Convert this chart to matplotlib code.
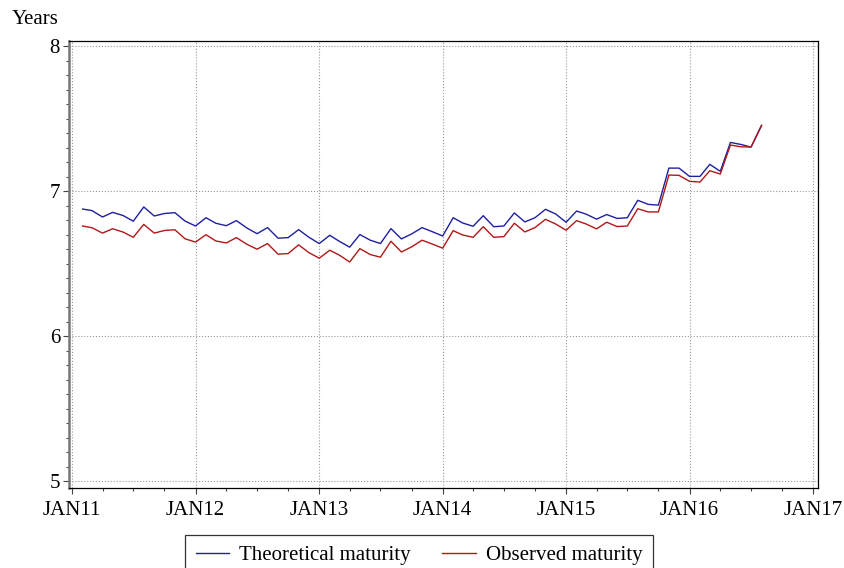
import matplotlib
matplotlib.use("Agg")
import matplotlib.pyplot as plt
import matplotlib.dates as mdates
import matplotlib.ticker as mticker
import pandas as pd

months = pd.date_range("2011-02-01", "2016-08-01", freq="MS")

theoretical = [
    6.878, 6.867, 6.823, 6.855, 6.833, 6.794, 6.892, 6.830, 6.847, 6.853, 6.795,
    6.761, 6.818, 6.780, 6.763, 6.798, 6.747, 6.708, 6.750, 6.677, 6.681, 6.736, 6.684,
    6.640, 6.697, 6.656, 6.615, 6.702, 6.663, 6.640, 6.743, 6.672, 6.706, 6.750, 6.722,
    6.692, 6.818, 6.782, 6.759, 6.832, 6.756, 6.761, 6.851, 6.789, 6.818, 6.876, 6.844,
    6.787, 6.864, 6.843, 6.808, 6.840, 6.813, 6.818, 6.938, 6.910, 6.905, 7.160, 7.160,
    7.103, 7.103, 7.186, 7.138, 7.337, 7.323, 7.305, 7.454,
]
observed = [
    6.761, 6.749, 6.712, 6.742, 6.719, 6.683, 6.772, 6.712, 6.730, 6.735, 6.673,
    6.650, 6.701, 6.658, 6.644, 6.681, 6.635, 6.601, 6.640, 6.567, 6.571, 6.631, 6.578,
    6.539, 6.594, 6.561, 6.513, 6.605, 6.564, 6.546, 6.656, 6.582, 6.617, 6.663, 6.637,
    6.608, 6.729, 6.699, 6.683, 6.756, 6.683, 6.688, 6.780, 6.720, 6.750, 6.807, 6.775,
    6.732, 6.798, 6.775, 6.741, 6.787, 6.757, 6.761, 6.880, 6.858, 6.858, 7.112, 7.110,
    7.069, 7.064, 7.142, 7.119, 7.319, 7.307, 7.305, 7.454,
]

plt.rcParams["font.family"] = ["Liberation Serif", "DejaVu Serif"]

fig = plt.figure(figsize=(8.44, 5.68), dpi=100)
ax = fig.add_axes([0.0818, 0.1408, 0.8874, 0.787])

ax.plot(months, theoretical, color="#1f1fa0", lw=1.0, label="Theoretical maturity")
ax.plot(months, observed, color="#b01818", lw=1.0, label="Observed maturity")

ax.set_xlim(pd.Timestamp("2010-12-23"), pd.Timestamp("2017-01-15"))
ax.set_ylim(4.955, 8.036)

ax.xaxis.set_major_locator(mdates.YearLocator())
ax.xaxis.set_minor_locator(mdates.MonthLocator(bymonth=[4, 7, 10]))
ax.xaxis.set_major_formatter(mdates.DateFormatter("JAN%y"))
ax.yaxis.set_major_locator(mticker.MultipleLocator(1))
ax.yaxis.set_minor_locator(mticker.MultipleLocator(0.1))

ax.grid(True, which="major", color="#999999", linestyle=":", lw=0.8)
ax.tick_params(which="major", length=4.5, width=0.8, labelsize=15, color="#444444")
ax.tick_params(which="minor", length=2.5, width=0.8, color="#444444")
ax.tick_params(axis="x", pad=5)
ax.tick_params(axis="y", pad=2)

for side in ["top", "right", "bottom"]:
    ax.spines[side].set_linewidth(0.9)
ax.spines["left"].set_linewidth(1.8)
ax.spines["left"].set_color("#777777")

fig.text(0.014, 0.965, "Years", fontsize=15, va="center", ha="left")

leg = fig.legend(loc="upper center", bbox_to_anchor=(0.4965, 0.058), ncol=2,
                 fontsize=15, frameon=True, fancybox=False, handlelength=1.6,
                 columnspacing=1.5, borderpad=0.5, handletextpad=0.5,
                 borderaxespad=0)
leg.get_frame().set_edgecolor("black")
leg.get_frame().set_linewidth(0.9)

fig.savefig("out.png", dpi=100)
